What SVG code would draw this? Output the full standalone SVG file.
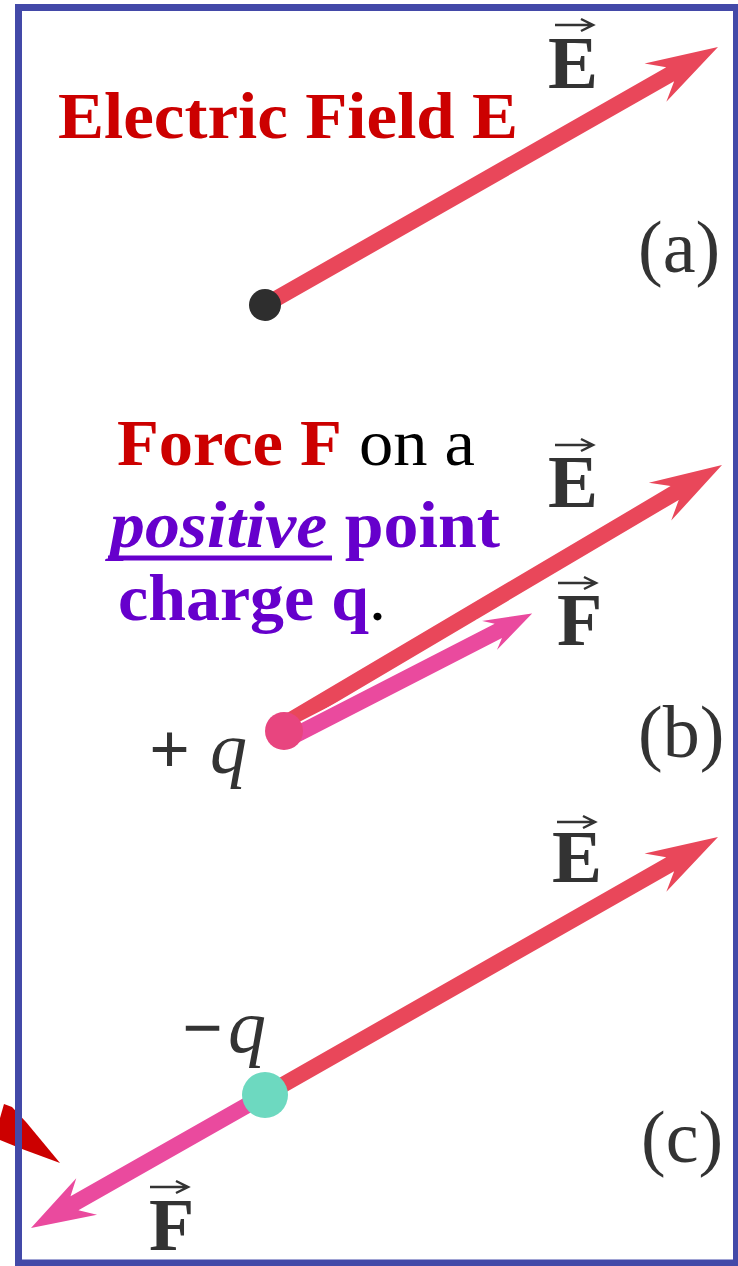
<svg xmlns="http://www.w3.org/2000/svg" width="738" height="1266" viewBox="0 0 738 1266">
<style>
.red{fill:#E9475A}
.pink{fill:#EA4A9E}
.lbl{font-family:"Liberation Serif","Times New Roman",serif;font-weight:bold;fill:#333}
.sub{font-family:"Liberation Serif","Times New Roman",serif;fill:#333}
.title{font-family:"Liberation Serif","Times New Roman",serif;font-weight:bold;font-size:65px}
.vec{stroke:#333;stroke-width:2.5;fill:none}
</style>
<rect x="0" y="0" width="738" height="1266" fill="#fff"/>

<g id="connectors">
<!-- (a) E -->
<path class="red" transform="translate(718,47) rotate(-29.67)" d="M0,0 L-72,-22 L-55,-8 L-521,-8 L-521,8 L-55,8 L-72,22 Z"/>
<!-- (b) E -->
<path class="red" transform="translate(722,465) rotate(-30.6)" d="M0,0 L-72,-22 L-55,-8 L-510,-8 L-510,8 L-55,8 L-72,22 Z"/>
<!-- (b) F -->
<path class="pink" stroke="#fff" stroke-width="2" transform="translate(535,612) rotate(-27.2)" d="M0,0 L-56,-19 L-44,-9 L-276,-9 L-276,9 L-44,9 L-56,19 Z"/>
<!-- (c) E -->
<path class="red" transform="translate(718,837) rotate(-29.67)" d="M0,0 L-72,-22 L-55,-8 L-521,-8 L-521,8 L-55,8 L-72,22 Z"/>
<!-- (c) F -->
<path class="pink" transform="translate(31,1228) rotate(150.4)" d="M0,0 L-64,-21 L-50,-8 L-269,-8 L-269,8 L-50,8 L-64,21 Z"/>
<!-- stray arrowhead at left -->
<path fill="#CC0000" d="M0,1118 L4,1104 L12,1107 L26,1122 L60,1163 L22,1149 L0,1140 Z"/>
</g>

<g id="charge-a"><circle cx="265" cy="305" r="16" fill="#2E2E2E"/></g>
<g id="charge-b"><circle cx="284" cy="731" r="19" fill="#E8457F"/></g>
<g id="charge-c"><circle cx="265" cy="1095" r="23" fill="#6DD9C0"/></g>

<g id="title-a">
<text class="title" x="58" y="138" fill="#CC0000" textLength="460" lengthAdjust="spacingAndGlyphs">Electric Field E</text>
</g>
<g id="title-b">
<text class="title" x="117" y="465" textLength="358" lengthAdjust="spacingAndGlyphs"><tspan fill="#CC0000">Force F</tspan><tspan fill="#000" font-weight="normal"> on a</tspan></text>
<text class="title" x="110" y="547" fill="#6600CC" textLength="390" lengthAdjust="spacingAndGlyphs"><tspan font-style="italic">positive</tspan> point</text>
<line x1="108" y1="558" x2="332" y2="558" stroke="#6600CC" stroke-width="5"/>
<text class="title" x="118" y="620" fill="#6600CC" textLength="268" lengthAdjust="spacingAndGlyphs">charge q<tspan fill="#000" font-weight="normal">.</tspan></text>
</g>

<g id="label-Ea">
<path class="vec" d="M555,25 H592 M581,19 L593,25 L581,31"/>
<text class="lbl" x="548" y="88" font-size="75">E</text>
</g>
<g id="label-Eb">
<path class="vec" d="M555,445 H592 M581,439 L593,445 L581,451"/>
<text class="lbl" x="548" y="507" font-size="75">E</text>
</g>
<g id="label-Fb">
<path class="vec" d="M558,583 H595 M584,577 L596,583 L584,589"/>
<text class="lbl" x="557" y="645" font-size="74">F</text>
</g>
<g id="label-Ec">
<path class="vec" d="M557,822 H594 M583,816 L595,822 L583,828"/>
<text class="lbl" x="552" y="882" font-size="75">E</text>
</g>
<g id="label-Fc">
<path class="vec" d="M150,1187 H187 M176,1181 L188,1187 L176,1193"/>
<text class="lbl" x="149" y="1250" font-size="74">F</text>
</g>

<g id="part-labels">
<text class="sub" x="638" y="272" font-size="74">(a)</text>
<text class="sub" x="638" y="757" font-size="74">(b)</text>
<text class="sub" x="641" y="1162" font-size="74">(c)</text>
</g>
<g id="charge-labels">
<text class="sub" x="149" y="773" font-size="72" font-weight="bold">+</text>
<text class="sub" x="210" y="773" font-size="74" font-style="italic">q</text>
<text class="sub" x="182" y="1052" font-size="72" font-weight="bold">−</text>
<text class="sub" x="228" y="1052" font-size="76" font-style="italic">q</text>
</g>

<rect id="frame" x="18.5" y="7.5" width="718" height="1255.5" fill="none" stroke="#4349A8" stroke-width="7"/>
</svg>
